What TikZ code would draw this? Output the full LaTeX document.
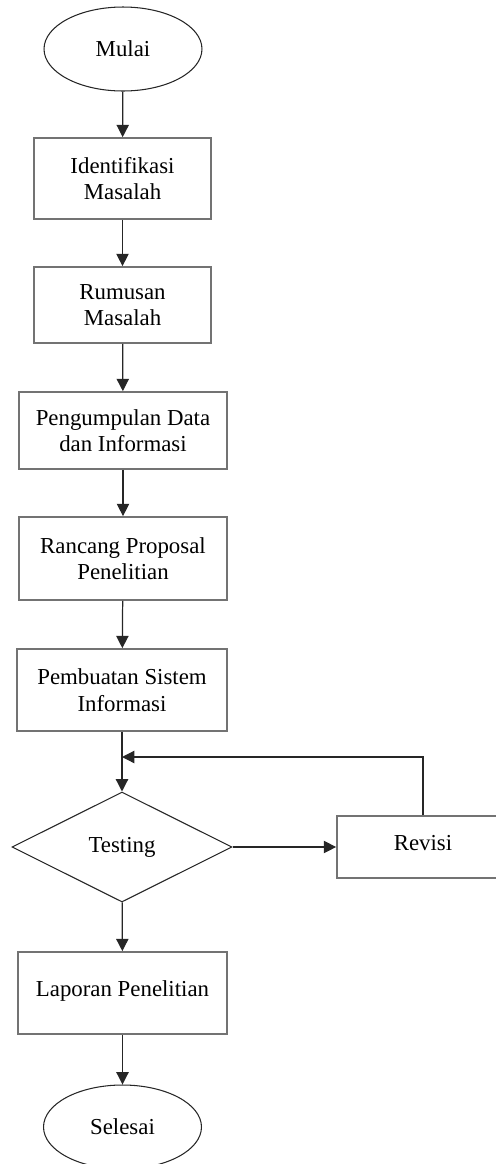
\documentclass[tikz,border=0pt]{standalone}
\usepackage{fontspec}
\setmainfont{Liberation Serif}
\usepackage{xcolor}
\usepackage{tikz}
\usetikzlibrary{positioning, arrows.meta, shapes.geometric}

\begin{document}
\begin{tikzpicture}[x=0.02cm, y=-0.02cm,
  font=\fontsize{13}{15}\selectfont,
  proc/.style={draw=black!55, line width=1pt, rectangle, align=center, inner sep=0pt},
  term/.style={draw=black!85, line width=0.6pt, ellipse, inner sep=0pt,
               minimum width=3.16cm, minimum height=1.68cm},
  arr/.style={draw=black!85, line width=0.7pt, -{Triangle[length=7pt,width=7pt]}}]
  \useasboundingbox (0,0) rectangle (496,1164);

  \node[term] (mulai) at (123,49) {Mulai};
  \node[proc, minimum width=3.54cm, minimum height=1.62cm] (identifikasi) at (122.5,178.5) {Identifikasi\\Masalah};
  \node[proc, minimum width=3.54cm, minimum height=1.52cm] (rumusan) at (122.5,305) {Rumusan\\Masalah};
  \node[proc, minimum width=4.16cm, minimum height=1.54cm] (pengumpulan) at (123,430.5) {Pengumpulan Data\\dan Informasi};
  \node[proc, minimum width=4.16cm, minimum height=1.66cm] (rancang) at (123,558.5) {Rancang Proposal\\Penelitian};
  \node[proc, minimum width=4.2cm, minimum height=1.64cm] (pembuatan) at (122,690) {Pembuatan Sistem\\Informasi};
  \node[diamond, draw=black!85, line width=0.6pt, inner sep=0pt,
        minimum width=4.4cm, minimum height=2.2cm] (testing) at (122,847) {Testing};
  \node[proc, minimum width=3.44cm, minimum height=1.24cm] (revisi) at (423,847) {\raisebox{5pt}{Revisi}};
  \node[proc, minimum width=4.18cm, minimum height=1.64cm] (laporan) at (122.5,993) {\raisebox{5pt}{Laporan Penelitian}};
  \node[term] (selesai) at (122.5,1127) {Selesai};
  \coordinate (balik) at (122,757);

  \draw[arr] (mulai) -- (identifikasi);
  \draw[arr] (identifikasi) -- (rumusan);
  \draw[arr] (rumusan) -- (pengumpulan);
  \draw[arr] (pengumpulan) -- (rancang);
  \draw[arr] (rancang) -- (pembuatan);
  \draw[arr] (pembuatan) -- (testing);
  \draw[arr] (testing) -- (revisi);
  \draw[arr] (revisi.north) |- (balik);
  \draw[arr] (testing) -- (laporan);
  \draw[arr] (laporan) -- (selesai);

\end{tikzpicture}
\end{document}
